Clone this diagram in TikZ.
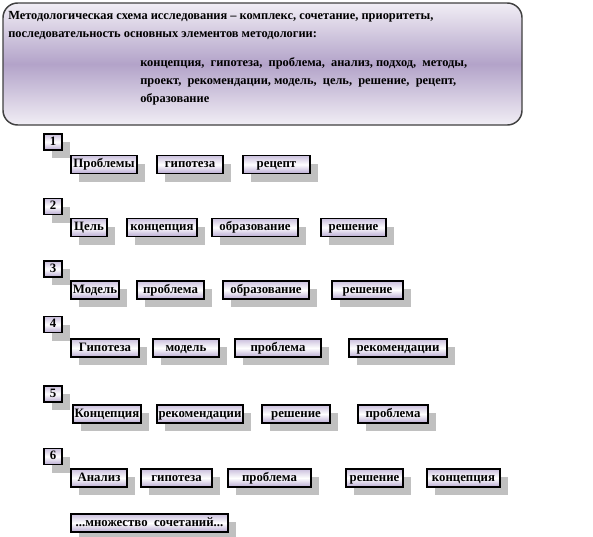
\documentclass[tikz,border=0pt]{standalone}
\usepackage{fontspec}
\setmainfont{Liberation Serif}
\usetikzlibrary{shadows}
\definecolor{hdrmid}{HTML}{B3A3C9}
\definecolor{hdrlight}{HTML}{F1EEF5}
\definecolor{boxlav}{HTML}{B9AAD2}
\definecolor{shadowgray}{HTML}{C0C0C0}
\tikzset{
  elem/.style={draw=black, line width=0.8pt, minimum height=13.5pt, inner sep=1pt,
    text height=0.7em, text depth=0.22em,
    top color=boxlav!75, bottom color=boxlav, middle color=white,
    font=\bfseries\fontsize{9.6}{10}\selectfont,
    drop shadow={shadow xshift=6pt, shadow yshift=-6pt, fill=shadowgray, opacity=1}},
  num/.style={elem, minimum width=13.5pt, minimum height=12pt},
  bw/.style={minimum width=#1*0.75pt},
  hdrtext/.style={font=\bfseries\fontsize{9.3}{13.5}\selectfont, anchor=west, inner sep=0pt},
}

\begin{document}
\begin{tikzpicture}[x=0.75pt, y=-0.75pt]
\useasboundingbox (0,0) rectangle (593,536);

% ---- header ----
\draw[line width=1.1pt, draw=black!75, rounded corners=11pt,
  top color=hdrlight, bottom color=hdrlight, middle color=hdrmid]
  (3,3) rectangle (522,125);
\node[hdrtext] (hline1) at (8,17) {Методологическая схема исследования – комплекс, сочетание, приоритеты,};
\node[hdrtext] (hline2) at (8,36) {последовательность основных элементов методологии:};
\node[hdrtext, anchor=north west, align=left] (hlist) at (140,57)
  {концепция, \ гипотеза, \ проблема, \ анализ, подход, \ методы,\\
   проект, \ рекомендации, модель, \ цель, \ решение, \ рецепт,\\
   образование};

% ---- 1 ----
\node[num] (n1) at (53,142) {1};
\node[elem, bw=66] (r1a) at (104,164.5) {Проблемы};
\node[elem, bw=66] (r1b) at (190,164.5) {гипотеза};
\node[elem, bw=67] (r1c) at (276.5,164.5) {рецепт};

% ---- 2 ----
\node[num] (n2) at (53,206.5) {2};
\node[elem, bw=36] (r2a) at (89,227.5) {Цель};
\node[elem, bw=70] (r2b) at (162,227.5) {концепция};
\node[elem, bw=86] (r2c) at (255,227.5) {образование};
\node[elem, bw=65] (r2d) at (353.5,227.5) {решение};

% ---- 3 ----
\node[num] (n3) at (53,269) {3};
\node[elem, bw=48] (r3a) at (95,290) {Модель};
\node[elem, bw=67] (r3b) at (170.5,290) {проблема};
\node[elem, bw=86] (r3c) at (266,290) {образование};
\node[elem, bw=71] (r3d) at (367.5,290) {решение};

% ---- 4 ----
\node[num] (n4) at (53,324.5) {4};
\node[elem, bw=68] (r4a) at (105,348) {Гипотеза};
\node[elem, bw=66] (r4b) at (186,348) {модель};
\node[elem, bw=86] (r4c) at (278,348) {проблема};
\node[elem, bw=98] (r4d) at (398,348) {рекомендации};

% ---- 5 ----
\node[num] (n5) at (53,394) {5};
\node[elem, bw=68] (r5a) at (107,414) {Концепция};
\node[elem, bw=86] (r5b) at (200,414) {рекомендации};
\node[elem, bw=68] (r5c) at (296,414) {решение};
\node[elem, bw=70] (r5d) at (393,414) {проблема};

% ---- 6 ----
\node[num] (n6) at (53,456.5) {6};
\node[elem, bw=56] (r6a) at (99,478) {Анализ};
\node[elem, bw=71] (r6b) at (176.5,478) {гипотеза};
\node[elem, bw=83] (r6c) at (269.5,478) {проблема};
\node[elem, bw=57] (r6d) at (374.5,478) {решение};
\node[elem, bw=73] (r6e) at (463.5,478) {концепция};

% ---- more ----
\node[elem, bw=157] (more) at (149.5,523) {...множество \ сочетаний...};

\end{tikzpicture}
\end{document}
